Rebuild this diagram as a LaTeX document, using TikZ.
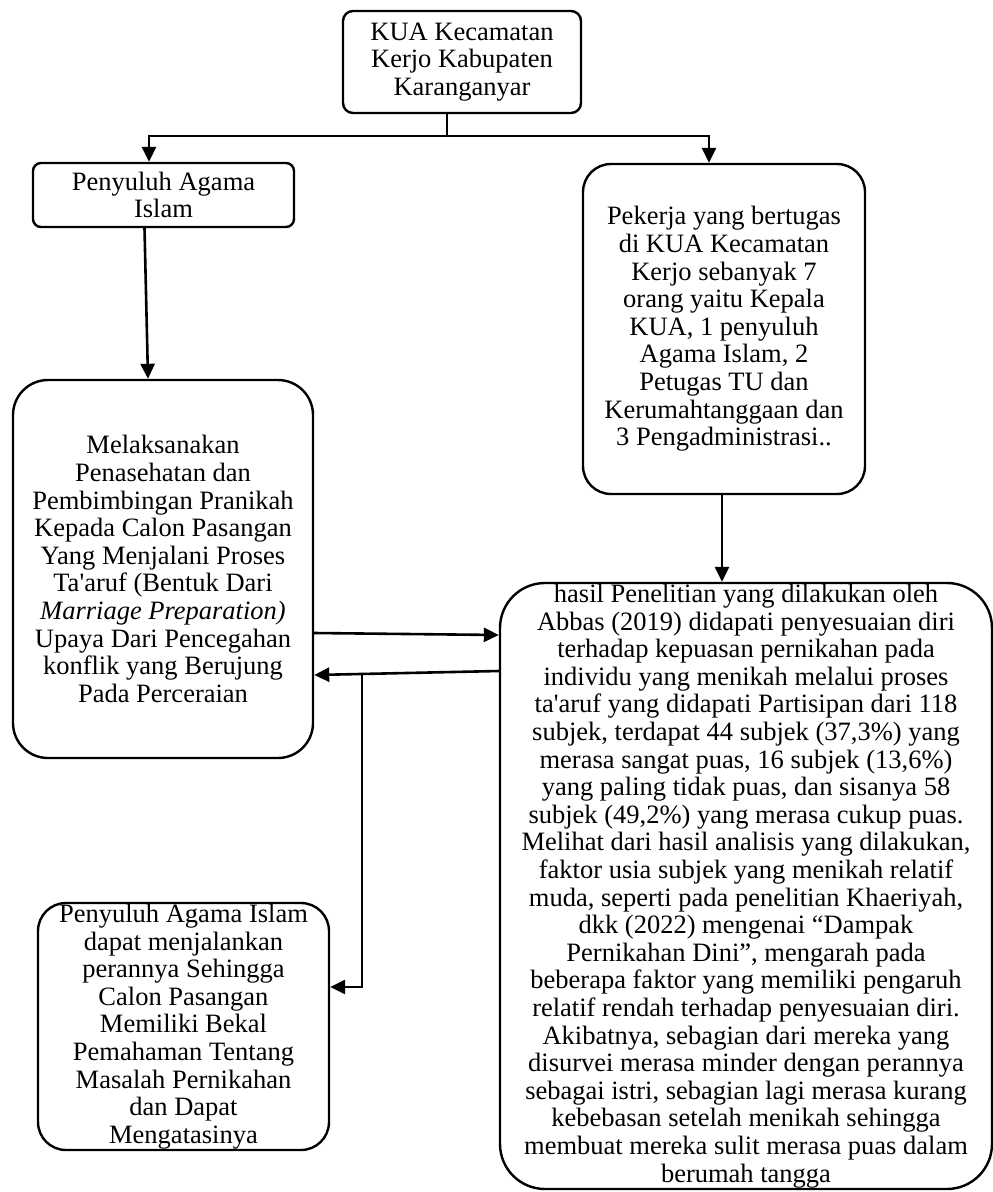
\documentclass[tikz,border=0pt]{standalone}
\usepackage{fontspec}
\setmainfont{Liberation Serif}
\usetikzlibrary{arrows.meta,calc}
\begin{document}
\begin{tikzpicture}[x=1pt,y=-1pt,
  box/.style={draw, line width=2.4pt, align=center, inner sep=0pt,
    font=\fontsize{26.5}{27.6}\selectfont},
  bigbox/.style={box, font=\fontsize{26.5}{27.6}\selectfont},
  ln/.style={line width=2.6pt},
  arr/.style={line width=2.6pt, -{Triangle[length=15pt,width=14pt]}}]
\useasboundingbox (0,0) rectangle (993,1192);

\node[box, minimum width=238pt, minimum height=102pt, rounded corners=10pt] (kua) at (462,62)
  {KUA Kecamatan\\Kerjo Kabupaten\\Karanganyar};
\node[box, minimum width=261pt, minimum height=64pt, rounded corners=8pt] (pa) at (163.5,195)
  {Penyuluh Agama\\Islam};
\node[box, minimum width=282pt, minimum height=330pt, rounded corners=28pt] (pk) at (724,329)
  {Pekerja yang bertugas\\di KUA Kecamatan\\Kerjo sebanyak 7\\orang yaitu Kepala\\KUA, 1 penyuluh\\Agama Islam, 2\\Petugas TU dan\\Kerumahtanggaan dan\\3 Pengadministrasi..};
\node[box, minimum width=300pt, minimum height=378pt, rounded corners=35pt] (ml) at (163,569)
  {Melaksanakan\\Penasehatan dan\\Pembimbingan Pranikah\\Kepada Calon Pasangan\\Yang Menjalani Proses\\Ta\textquotesingle aruf (Bentuk Dari\\\textit{Marriage Preparation)}\\Upaya Dari Pencegahan\\konflik yang Berujung\\Pada Perceraian};
\node[box, minimum width=291pt, minimum height=247pt, rounded corners=28pt] (bl) at (183.5,1026.5)
  {Penyuluh Agama Islam\\dapat menjalankan\\perannya Sehingga\\Calon Pasangan\\Memiliki Bekal\\Pemahaman Tentang\\Masalah Pernikahan\\dan Dapat\\Mengatasinya};
\node[bigbox, minimum width=492pt, minimum height=606pt, rounded corners=45pt] (big) at (746,886)
  {hasil Penelitian yang dilakukan oleh\\Abbas (2019) didapati penyesuaian diri\\terhadap kepuasan pernikahan pada\\individu yang menikah melalui proses\\ta\textquotesingle aruf yang didapati Partisipan dari 118\\subjek, terdapat 44 subjek (37,3\%) yang\\merasa sangat puas, 16 subjek (13,6\%)\\yang paling tidak puas, dan sisanya 58\\subjek (49,2\%) yang merasa cukup puas.\\Melihat dari hasil analisis yang dilakukan,\\faktor usia subjek yang menikah relatif\\muda, seperti pada penelitian Khaeriyah,\\dkk (2022) mengenai “Dampak\\Pernikahan Dini”, mengarah pada\\beberapa faktor yang memiliki pengaruh\\relatif rendah terhadap penyesuaian diri.\\Akibatnya, sebagian dari mereka yang\\disurvei merasa minder dengan perannya\\sebagai istri, sebagian lagi merasa kurang\\kebebasan setelah menikah sehingga\\membuat mereka sulit merasa puas dalam\\berumah tangga};

\coordinate (j) at (447,136);
\draw[ln] (kua.south -| j) -- (j);
\draw[arr] (j) -| ($(pa.north)+(-14.5,0)$);
\draw[arr] (j) -| ($(pk.north)+(-15,0)$);
\draw[arr] ($(pa.south)+(-19,0)$) -- ($(ml.north)+(-15,0)$);
\draw[arr] ($(pk.south)+(-2,0)$) -- ($(big.north)+(-24,0)$);
\draw[arr] ($(ml.east)+(0,64)$) -- ($(big.west)+(0,-251)$);
\draw[arr] ($(big.west)+(0,-215)$) -- ($(ml.east)+(0,106)$);
\coordinate (b) at (362,674);
\draw[arr] (b) |- ($(bl.east)+(0,-39.5)$);
\end{tikzpicture}
\end{document}
